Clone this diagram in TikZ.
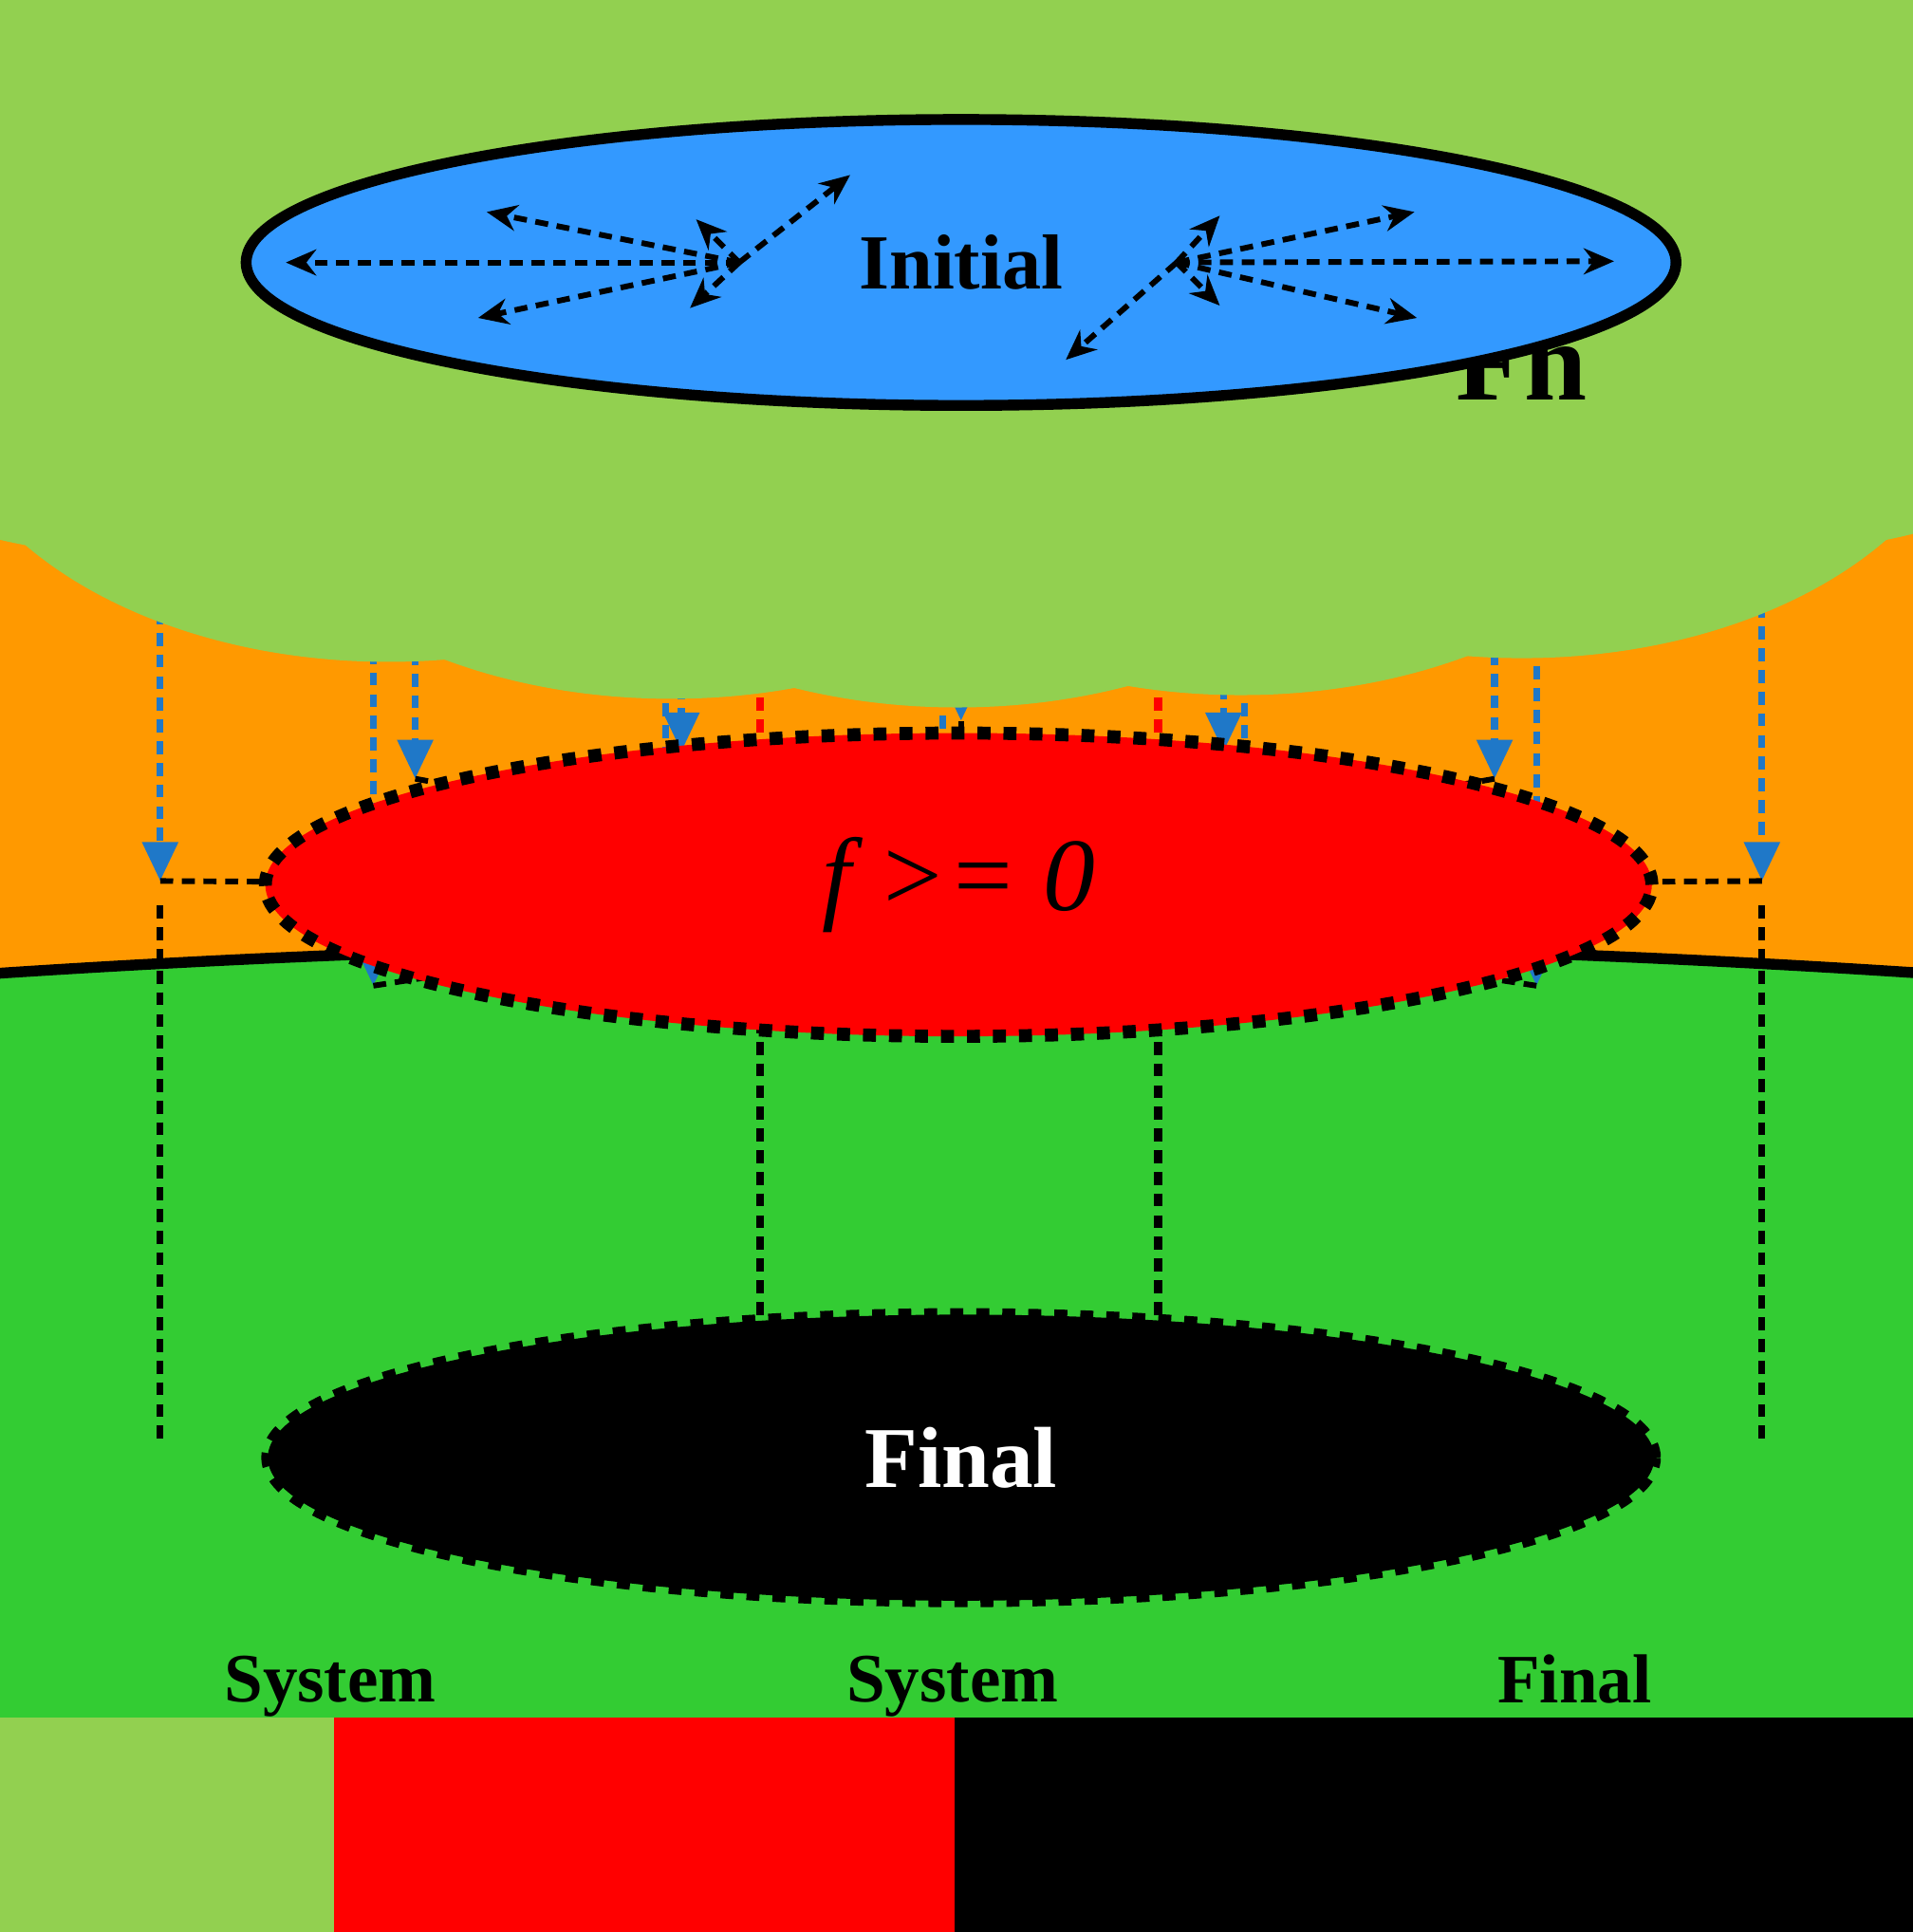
\documentclass[tikz,border=0pt]{standalone}
\usepackage{fontspec}
\setmainfont{Liberation Serif}
\usetikzlibrary{arrows.meta,shapes.geometric}
\definecolor{pg}{HTML}{92D050}
\definecolor{og}{HTML}{FF9900}
\definecolor{bg}{HTML}{33CC33}
\definecolor{ib}{HTML}{3399FF}
\definecolor{ab}{HTML}{1F78C8}
\begin{document}
\begin{tikzpicture}[x=0.01cm,y=-0.01cm,
 par/.style={ellipse,fill=pg,minimum width=210,minimum height=136,inner sep=0,font=\fontsize{26}{28}\selectfont\bfseries\itshape},
 bl/.style={ab,densely dashed,line width=1.6pt,-{Triangle[length=9pt,width=8pt]}},
 bk/.style={black,densely dashed,line width=1.3pt,-{Stealth[length=7pt,width=6pt]}},
 rd/.style={red,densely dashed,line width=1.8pt,-{Triangle[length=9pt,width=8pt]}},
 leg/.style={align=center,font=\fontsize{16}{20}\selectfont\bfseries}]
\useasboundingbox (0,0) rectangle (1552,1568);
% big plates
\node (plate) [ellipse,draw,line width=2.5pt,fill=og,minimum width=1300,minimum height=236] at (780,720) {};
\node (bottom) [ellipse,draw,line width=2.5pt,fill=bg,minimum width=1300,minimum height=236] at (780,1180) {};
% coordinates
\foreach \n/\x/\ya/\yb in {To/337/195/632, L/303/370/800, Ls/553/170/610, Hs/540/395/828, Br/780/160/585, Pv/765/405/840, Gr/993/170/610, Ph/1010/395/828, Fc/1213/195/632, Fn/1247/365/800, Nb/130/285/715, Gt/1430/280/715}
 {\coordinate (\n a) at (\x,\ya); \coordinate (\n b) at (\x,\yb);}
\foreach \n in {To,L,Ls,Hs,Br,Pv,Gr,Ph,Fc,Fn,Nb,Gt} \draw[bl] (\n a) -- (\n b);
% black dashed in plate to constraint
\coordinate (c1) at (612,718); \coordinate (c2) at (655,690); \coordinate (c3) at (655,745);
\coordinate (c4) at (735,685); \coordinate (c5) at (715,752); \coordinate (c6) at (780,680);
\coordinate (c7) at (775,752); \coordinate (c8) at (840,682); \coordinate (c9) at (845,755);
\coordinate (c10) at (890,690); \coordinate (c11) at (890,745); \coordinate (c12) at (945,718);
\draw[bk] (Nbb)--(c1); \draw[bk] (Tob)--(c2); \draw[bk] (Lb)--(c3); \draw[bk] (Lsb)--(c4);
\draw[bk] (Hsb)--(c5); \draw[bk] (Brb)--(c6); \draw[bk] (Pvb)--(c7); \draw[bk] (Grb)--(c8);
\draw[bk] (Phb)--(c9); \draw[bk] (Fcb)--(c10); \draw[bk] (Fnb)--(c11); \draw[bk] (Gtb)--(c12);
% vertical black dashed to bottom
\coordinate (e1) at (130,735); \coordinate (e2) at (130,1168);
\coordinate (e3) at (1430,735); \coordinate (e4) at (1430,1168);
\draw[black,densely dashed,line width=1.5pt] (e1)--(e2);
\draw[black,densely dashed,line width=1.5pt] (e3)--(e4);
% red and black verticals
\coordinate (r1) at (617,700); \coordinate (r2) at (617,222);
\coordinate (r3) at (940,700); \coordinate (r4) at (940,222);
\draw[rd] (r1)--(r2); \draw[rd] (r3)--(r4);
\coordinate (k1) at (617,740); \coordinate (k2) at (617,1172);
\coordinate (k3) at (940,740); \coordinate (k4) at (940,1172);
\draw[black,densely dashed,line width=1.8pt,-{Triangle[length=14pt,width=14pt]}] (k1)--(k2);
\draw[black,densely dashed,line width=1.8pt,-{Triangle[length=14pt,width=14pt]}] (k3)--(k4);
% constraint & final
\node (con) [ellipse,draw,dashed,line width=3pt,fill=red,minimum width=320,minimum height=70,inner sep=0,font=\fontsize{24}{26}\selectfont\itshape] at (778,718) {f >= 0};
\node (fin) [ellipse,draw,dashed,line width=3pt,fill=black,text=white,minimum width=320,minimum height=66,inner sep=0,font=\fontsize{20}{22}\selectfont\bfseries] at (780,1183) {Final};
% parameter ovals
\node (Nbit) [par] at (125,213) {N{\fontsize{19}{20}\selectfont bit}};
\node (To) [par] at (322,128) {T{\fontsize{19}{20}\selectfont o}};
\node (Ls) [par] at (548,108) {L{\fontsize{19}{20}\selectfont s}};
\node (Br) [par] at (775,93) {B{\fontsize{19}{20}\selectfont r}};
\node (Gr) [par] at (998,106) {G{\fontsize{19}{20}\selectfont r}};
\node (fc) [par] at (1226,128) {f{\fontsize{19}{20}\selectfont c}};
\node (Gt) [par] at (1420,210) {G{\fontsize{19}{20}\selectfont t}};
\node (L) [par] at (315,298) {L};
\node (Hsat) [par] at (545,328) {H{\fontsize{19}{20}\selectfont sat}};
\node (Pav) [par] at (777,335) {P{\fontsize{19}{20}\selectfont av}};
\node (phi) [par] at (1007,325) {φ};
\node (Fn) [par,font=\fontsize{26}{28}\selectfont\bfseries] at (1235,295) {Fn};
% initial
\node (init) [ellipse,draw,line width=2.5pt,fill=ib,minimum width=330,minimum height=66,inner sep=0,font=\fontsize{18}{20}\selectfont\bfseries] at (780,213) {Initial};
\coordinate (il) at (600,213); \coordinate (ir) at (955,213);
\foreach \px/\py in {395/172, 232/213, 388/258, 565/178, 560/250, 690/142}
 \draw[bk] (il) -- (\px,\py);
\foreach \px/\py in {990/175, 1148/172, 1310/212, 1150/258, 990/248, 865/292}
 \draw[bk] (ir) -- (\px,\py);
% legend
\node (lg1) [leg] at (268,1398) {System\\Parameters};
\node (lg2) [leg] at (773,1398) {System\\Constraints};
\node (lg3) [leg] at (1278,1398) {Final\\Parameters};
\node (b1) [fill=pg,minimum width=286,minimum height=62,inner sep=0] at (268,1503) {};
\node (b2) [fill=red,minimum width=286,minimum height=62,inner sep=0] at (774,1503) {};
\node (b3) [fill=black,minimum width=286,minimum height=62,inner sep=0] at (1278,1503) {};
\end{tikzpicture}
\end{document}
